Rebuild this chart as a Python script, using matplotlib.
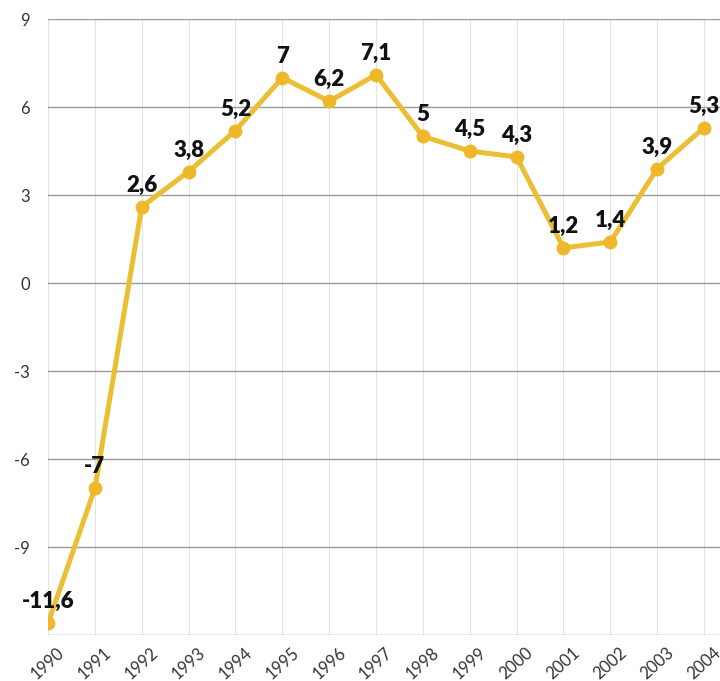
import matplotlib.pyplot as plt

plt.rcParams['font.family'] = ['Lato', 'DejaVu Sans']

years = list(range(1990, 2005))
values = [-11.6, -7, 2.6, 3.8, 5.2, 7, 6.2, 7.1, 5, 4.5, 4.3, 1.2, 1.4, 3.9, 5.3]
labels = ['-11,6', '-7', '2,6', '3,8', '5,2', '7', '6,2', '7,1', '5', '4,5', '4,3', '1,2', '1,4', '3,9', '5,3']
yticks = [-9, -6, -3, 0, 3, 6, 9]

line_color = '#EABF33'
marker_color = '#EFB82A'

fig = plt.figure(figsize=(7.2, 6.81), dpi=100)
ax = fig.add_axes([0.0667, 0.0675, 0.9333, 0.9045])

ax.plot(years, values, color=line_color, lw=3.6, marker='o', ms=9,
        mfc=marker_color, mec=marker_color, zorder=3)
for x, y, t in zip(years, values, labels):
    ax.annotate(t, (x, y), xytext=(0, 8), textcoords='offset points',
                ha='center', va='bottom', fontsize=16, fontweight='heavy', color='#111111')

ax.set_xlim(1990, 2004.34)
ax.set_ylim(-12, 9)
ax.set_yticks(yticks)
ax.set_yticklabels([str(v) for v in yticks])
ax.set_xticks(years)
ax.set_xticklabels([str(y) for y in years], rotation=42, ha='center')

for s in ax.spines.values():
    s.set_visible(False)
ax.tick_params(length=0, labelsize=12, colors='#333333')
ax.tick_params(axis='y', pad=13)
ax.tick_params(axis='x', pad=7)
# 2004 runs past the right edge in the original too
ax.get_xticklabels()[-1].set_x(2004.0)

for v in yticks + [-12]:
    ax.axhline(v, color='#9a9a9a', lw=1, zorder=1)
for x in years:
    ax.axvline(x, color='#e2e2e2', lw=0.8, zorder=0)

fig.savefig('out.png')
